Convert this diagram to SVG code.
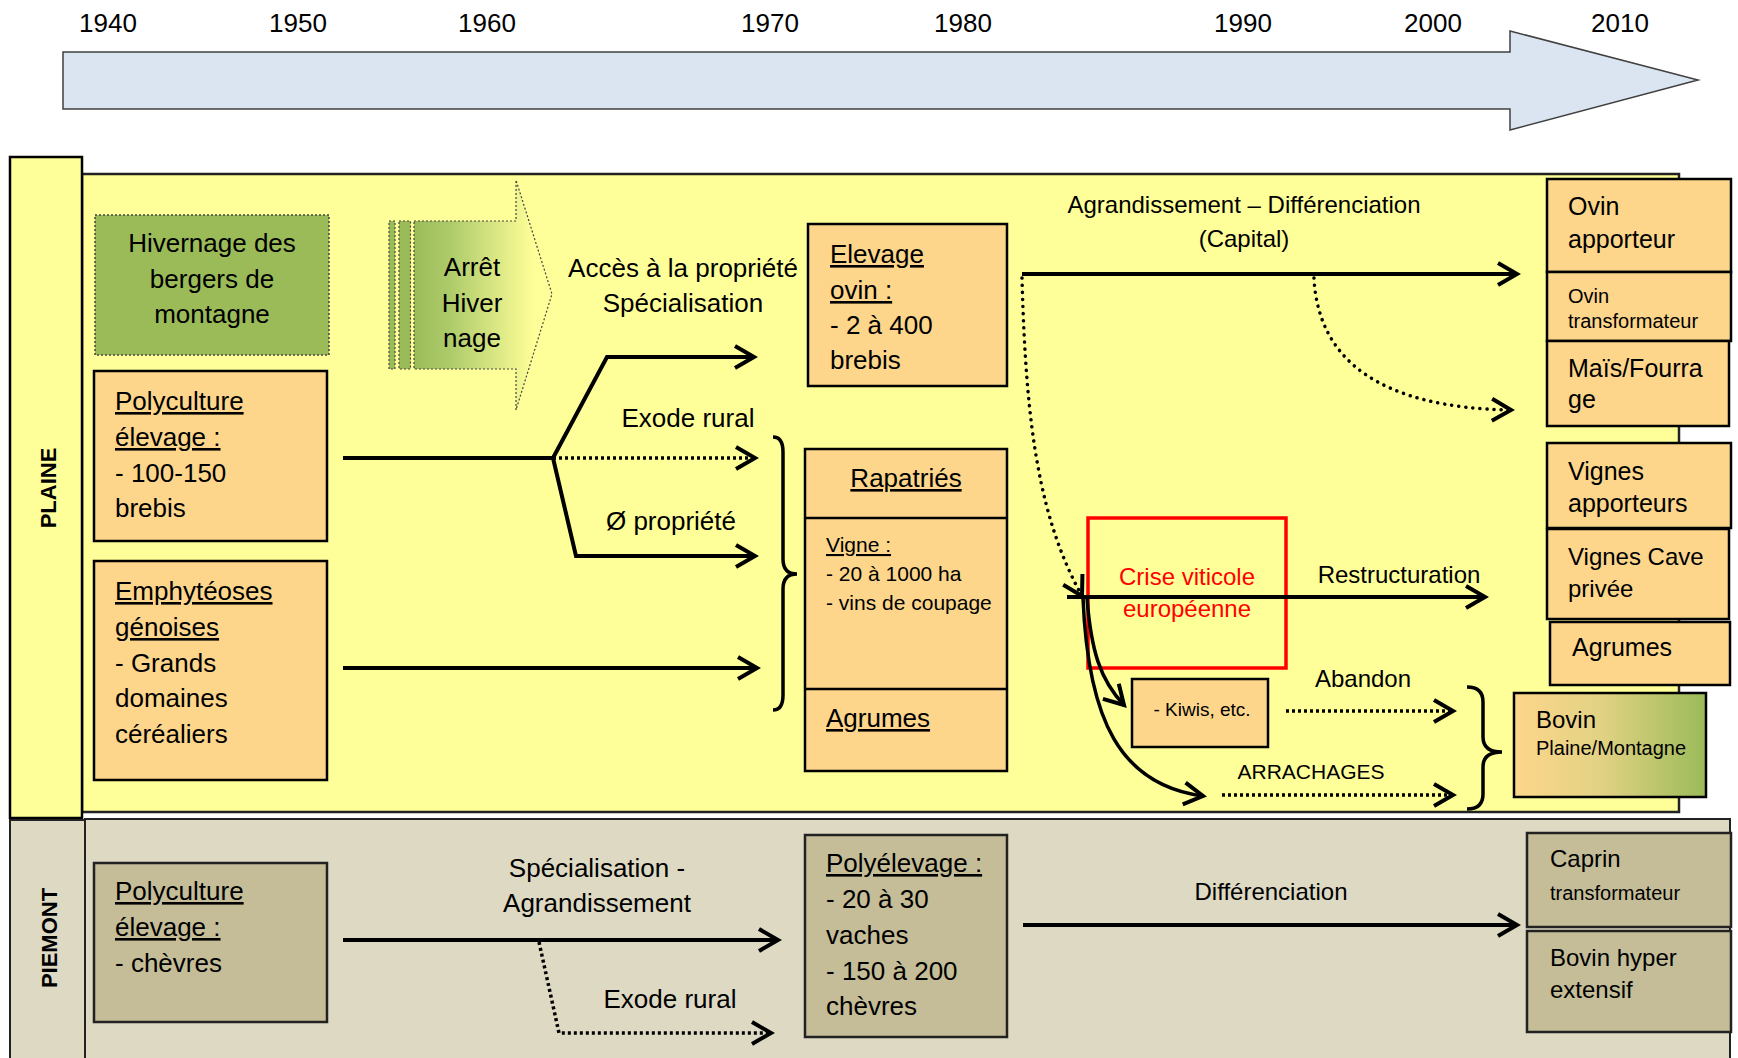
<svg xmlns="http://www.w3.org/2000/svg" width="1738" height="1058" viewBox="0 0 1738 1058">
<style>
text{font-family:"Liberation Sans",Arial,sans-serif;font-size:26px;fill:#000}
.s21{font-size:21px}.s20{font-size:20px}.s19{font-size:19px}.s24{font-size:24px}.s25{font-size:25px}
.u{text-decoration:underline}
.mid{text-anchor:middle}
.lab{font-weight:bold;font-size:22px;text-anchor:middle}
.box{fill:#fdd68b;stroke:#000;stroke-width:2.5}
.obox{fill:#c4bd97;stroke:#222;stroke-width:2.5}
.ln{fill:none;stroke:#000;stroke-width:4}
.dot{fill:none;stroke:#000;stroke-width:3.5;stroke-dasharray:3 3}
.rdot{fill:none;stroke:#000;stroke-width:3.5;stroke-linecap:round;stroke-dasharray:0.1 7}
.cur{fill:none;stroke:#000;stroke-width:3.5}
.brace{fill:none;stroke:#000;stroke-width:3.5}
.red{fill:#ff0000}
</style>
<defs>
<marker id="ah" viewBox="-24 -14 28 28" refX="0" refY="0" markerWidth="28" markerHeight="28" markerUnits="userSpaceOnUse" orient="auto">
<path d="M-19,-11 L0,0 L-19,11" fill="none" stroke="#000" stroke-width="4"/>
</marker>
<linearGradient id="gArr" gradientUnits="userSpaceOnUse" x1="414" y1="0" x2="535" y2="0">
<stop offset="0" stop-color="#9bbb59"/><stop offset="0.3" stop-color="#aecb6a"/><stop offset="1" stop-color="#ffff99"/>
</linearGradient>
<linearGradient id="gBov" x1="0" y1="0" x2="1" y2="0">
<stop offset="0" stop-color="#fdd68b"/><stop offset="0.45" stop-color="#e2d283"/><stop offset="1" stop-color="#9bbb59"/>
</linearGradient>
</defs>

<g id="timeline">
<polygon points="63,52 1510,52 1510,31 1698,80 1510,130 1510,109 63,109" fill="#dbe5f1" stroke="#404040" stroke-width="1.5"/>
<text x="108" y="32" class="mid">1940</text>
<text x="298" y="32" class="mid">1950</text>
<text x="487" y="32" class="mid">1960</text>
<text x="770" y="32" class="mid">1970</text>
<text x="963" y="32" class="mid">1980</text>
<text x="1243" y="32" class="mid">1990</text>
<text x="1433" y="32" class="mid">2000</text>
<text x="1620" y="32" class="mid">2010</text>
</g>

<g id="plaine-band">
<rect x="82" y="174" width="1597" height="638" fill="#ffff99" stroke="#222" stroke-width="2.5"/>
<rect x="10" y="157" width="72" height="661" fill="#ffff99" stroke="#000" stroke-width="2.5"/>
<text class="lab" transform="translate(56,488) rotate(-90)">PLAINE</text>
</g>

<g id="piemont-band">
<rect x="85" y="819" width="1645" height="260" fill="#ddd9c3" stroke="#222" stroke-width="2"/>
<rect x="10" y="820" width="75" height="260" fill="#ddd9c3" stroke="#222" stroke-width="2"/>
<text class="lab" transform="translate(57,938) rotate(-90)">PIEMONT</text>
</g>

<g id="hivernage">
<rect x="95" y="215" width="234" height="140" fill="#9bbb59" stroke="#444" stroke-width="1.5" stroke-dasharray="2 2"/>
<text x="212" y="252" class="mid">Hivernage des</text>
<text x="212" y="288" class="mid">bergers de</text>
<text x="212" y="323" class="mid">montagne</text>
</g>

<g id="arret">
<rect x="389" y="221" width="6" height="148" fill="#9bbb59" stroke="#444" stroke-width="1.2" stroke-dasharray="2 2"/>
<rect x="399" y="221" width="11.5" height="148" fill="#9bbb59" stroke="#444" stroke-width="1.2" stroke-dasharray="2 2"/>
<polygon points="414,221 516,221 516,180 552,294 516,410 516,369 414,369" fill="url(#gArr)" stroke="#444" stroke-width="1.2" stroke-dasharray="2 2"/>
<text x="472" y="276" class="mid">Arrêt</text>
<text x="472" y="312" class="mid">Hiver</text>
<text x="472" y="347" class="mid">nage</text>
</g>

<g id="polyculture-plaine">
<rect x="94" y="371" width="233" height="170" class="box"/>
<text x="115" y="410" class="u">Polyculture</text>
<text x="115" y="446" class="u">élevage :</text>
<text x="115" y="482">- 100-150</text>
<text x="115" y="517">brebis</text>
</g>

<g id="emphyteoses">
<rect x="94" y="561" width="233" height="219" class="box"/>
<text x="115" y="600" class="u">Emphytéoses</text>
<text x="115" y="636" class="u">génoises</text>
<text x="115" y="672">- Grands</text>
<text x="115" y="707">domaines</text>
<text x="115" y="743">céréaliers</text>
</g>

<g id="elevage-ovin">
<rect x="808" y="224" width="199" height="162" class="box"/>
<text x="830" y="263" class="u">Elevage</text>
<text x="830" y="299" class="u">ovin :</text>
<text x="830" y="334">- 2 à 400</text>
<text x="830" y="369">brebis</text>
</g>

<g id="rapatries">
<rect x="805" y="449" width="202" height="322" class="box"/>
<line x1="805" y1="518" x2="1007" y2="518" stroke="#000" stroke-width="2.5"/>
<line x1="805" y1="689" x2="1007" y2="689" stroke="#000" stroke-width="2.5"/>
<text x="906" y="487" class="mid u">Rapatriés</text>
<text x="826" y="552" class="s21 u">Vigne :</text>
<text x="826" y="581" class="s21">- 20 à 1000 ha</text>
<text x="826" y="610" class="s21">- vins de coupage</text>
<text x="826" y="727" class="u">Agrumes</text>
</g>

<g id="ovin-apporteur">
<rect x="1547" y="179" width="184" height="93" class="box"/>
<text x="1568" y="215" class="s25">Ovin</text>
<text x="1568" y="248" class="s25">apporteur</text>
</g>
<g id="ovin-transformateur">
<rect x="1547" y="272" width="184" height="69" class="box"/>
<text x="1568" y="303" class="s20">Ovin</text>
<text x="1568" y="328" class="s20">transformateur</text>
</g>
<g id="mais-fourrage">
<rect x="1547" y="341" width="182" height="85" class="box"/>
<text x="1568" y="377" class="s25">Maïs/Fourra</text>
<text x="1568" y="408" class="s25">ge</text>
</g>
<g id="vignes-apporteurs">
<rect x="1547" y="443" width="184" height="85" class="box"/>
<text x="1568" y="480" class="s25">Vignes</text>
<text x="1568" y="512" class="s25">apporteurs</text>
</g>
<g id="vignes-cave">
<rect x="1547" y="529" width="182" height="90" class="box"/>
<text x="1568" y="565" class="s24">Vignes Cave</text>
<text x="1568" y="597" class="s24">privée</text>
</g>
<g id="agrumes-2010">
<rect x="1550" y="622" width="180" height="63" class="box"/>
<text x="1572" y="656" class="s25">Agrumes</text>
</g>

<g id="crise">
<rect x="1088" y="518" width="198" height="150" fill="none" stroke="#ff0000" stroke-width="3.5"/>
<text x="1187" y="585" class="s24 mid red">Crise viticole</text>
<text x="1187" y="617" class="s24 mid red">européenne</text>
</g>

<g id="kiwis">
<rect x="1132" y="679" width="136" height="68" class="box"/>
<text x="1202" y="716" class="s19 mid">- Kiwis, etc.</text>
</g>

<g id="bovin-plaine">
<rect x="1514" y="693" width="192" height="104" fill="url(#gBov)" stroke="#000" stroke-width="2.5"/>
<text x="1536" y="728" class="s24">Bovin</text>
<text x="1536" y="755" class="s20">Plaine/Montagne</text>
</g>

<g id="polyculture-piemont">
<rect x="94" y="863" width="233" height="159" class="obox"/>
<text x="115" y="900" class="u">Polyculture</text>
<text x="115" y="936" class="u">élevage :</text>
<text x="115" y="972">- chèvres</text>
</g>

<g id="polyelevage">
<rect x="805" y="835" width="202" height="202" class="obox"/>
<text x="826" y="872" class="u">Polyélevage :</text>
<text x="826" y="908">- 20 à 30</text>
<text x="826" y="944">vaches</text>
<text x="826" y="980">- 150 à 200</text>
<text x="826" y="1015">chèvres</text>
</g>

<g id="caprin">
<rect x="1527" y="833" width="204" height="94" class="obox"/>
<text x="1550" y="867" class="s24">Caprin</text>
<text x="1550" y="900" class="s20">transformateur</text>
</g>
<g id="bovin-hyper">
<rect x="1527" y="931" width="204" height="101" class="obox"/>
<text x="1550" y="966" class="s24">Bovin hyper</text>
<text x="1550" y="998" class="s24">extensif</text>
</g>

<g id="connectors">
<path d="M343,458 L553,458" class="ln"/>
<path d="M553,458 L607,357 L754,357" class="ln" marker-end="url(#ah)"/>
<path d="M553,458 L755,458" class="dot" marker-end="url(#ah)"/>
<path d="M553,458 L576,556 L755,556" class="ln" marker-end="url(#ah)"/>
<path d="M343,668 L757,668" class="ln" marker-end="url(#ah)"/>
<path d="M773,437 Q783,437 783,452 L783,559 Q783,574 797,574 Q783,574 783,589 L783,695 Q783,710 773,710" class="brace"/>
<path d="M1022,274 L1517,274" class="ln" marker-end="url(#ah)"/>
<path d="M1022,278 C1026,430 1040,520 1082,596" class="rdot" marker-end="url(#ah)"/>
<path d="M1314,278 C1318,360 1380,408 1511,410" class="rdot" marker-end="url(#ah)"/>
<path d="M1067,597 L1485,597" class="ln" marker-end="url(#ah)"/>
<path d="M1087,598 C1091,650 1100,680 1124,705" class="cur" marker-end="url(#ah)"/>
<path d="M1083,598 C1088,720 1120,785 1203,796" class="cur" marker-end="url(#ah)"/>
<path d="M1286,711 L1453,711" class="dot" marker-end="url(#ah)"/>
<path d="M1222,795 L1453,795" class="dot" marker-end="url(#ah)"/>
<path d="M1467,687 Q1483,687 1483,702 L1483,737 Q1483,752 1502,752 Q1483,752 1483,767 L1483,794 Q1483,809 1467,809" class="brace"/>
<path d="M343,940 L778,940" class="ln" marker-end="url(#ah)"/>
<path d="M539,942 L559,1033 L771,1033" class="dot" marker-end="url(#ah)"/>
<path d="M1023,925 L1517,925" class="ln" marker-end="url(#ah)"/>
</g>

<g id="labels">
<text x="683" y="277" class="mid">Accès à la propriété</text>
<text x="683" y="312" class="mid">Spécialisation</text>
<text x="688" y="427" class="mid">Exode rural</text>
<text x="671" y="530" class="mid">Ø propriété</text>
<text x="1244" y="213" class="mid s24">Agrandissement – Différenciation</text>
<text x="1244" y="247" class="mid s24">(Capital)</text>
<text x="1399" y="583" class="mid s24">Restructuration</text>
<text x="1363" y="687" class="mid s24">Abandon</text>
<text x="1311" y="779" class="mid s21">ARRACHAGES</text>
<text x="597" y="877" class="mid">Spécialisation -</text>
<text x="597" y="912" class="mid">Agrandissement</text>
<text x="670" y="1008" class="mid">Exode rural</text>
<text x="1271" y="900" class="mid s24">Différenciation</text>
</g>
</svg>
